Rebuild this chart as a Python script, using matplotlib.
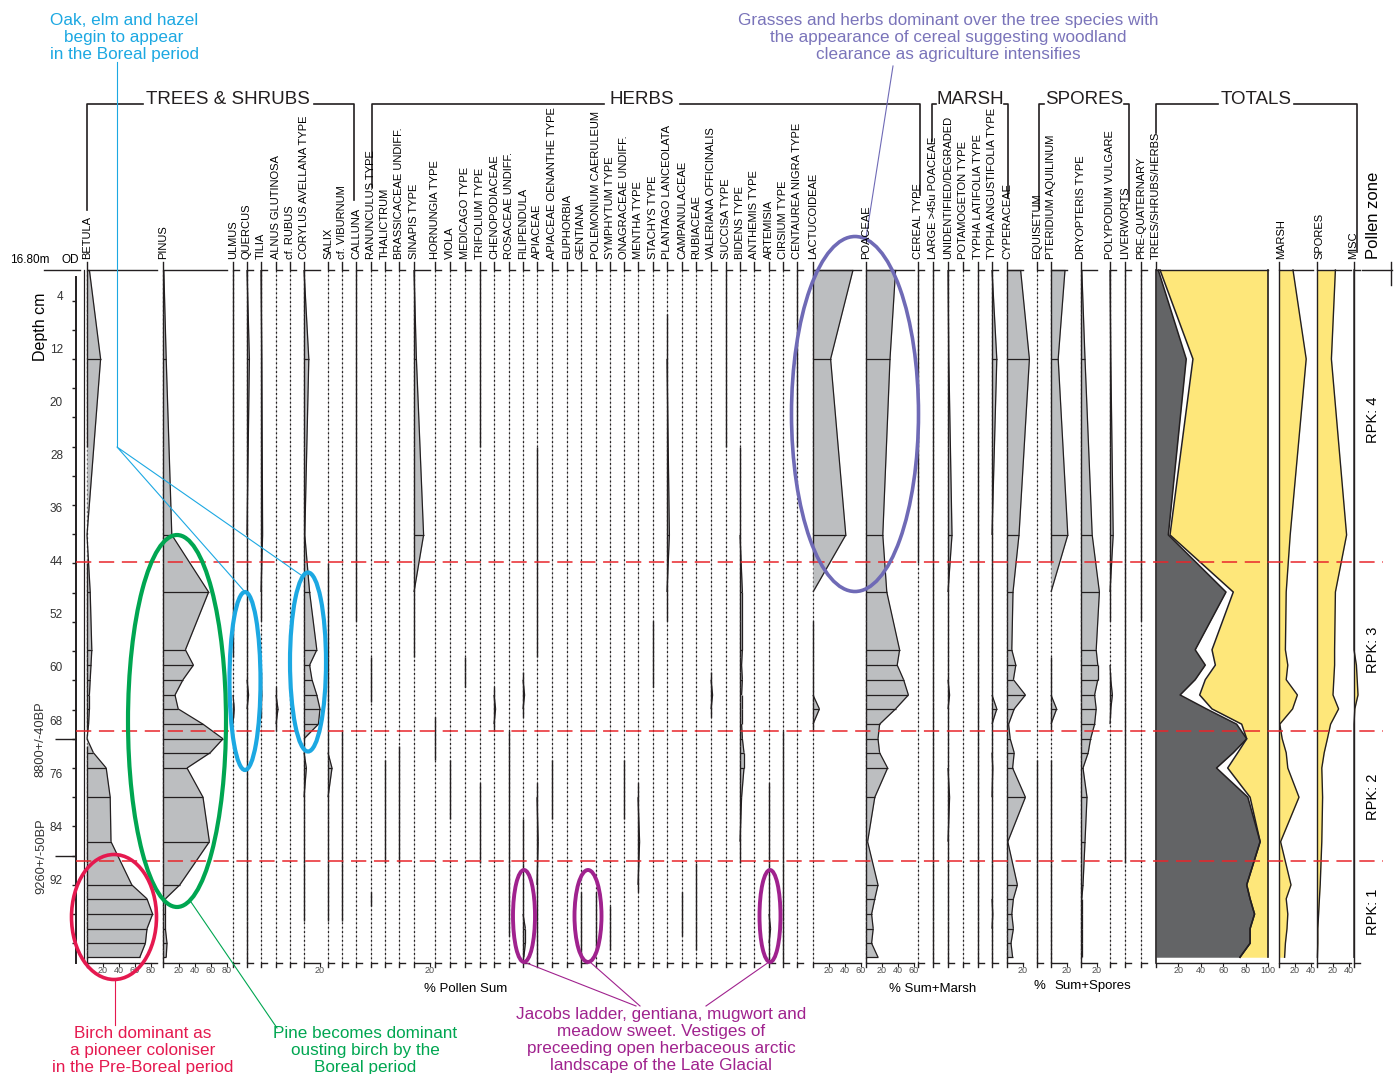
import numpy as np
import matplotlib.pyplot as plt
from matplotlib.patches import Ellipse
from matplotlib.collections import LineCollection

plt.rcParams['font.family'] = ['Liberation Sans', 'DejaVu Sans']

T = 0.5  # trace presence

# ---- data -------------------------------------------------------------
depth = [0, 13.4, 39.9, 48.5, 57.2, 59.5, 61.7, 64.0, 66.1, 68.4, 70.6,
         72.7, 75.0, 79.4, 86.1, 92.6, 94.7, 97.0, 99.2, 101.4, 103.5]

depth_labels = [4, 12, 20, 28, 36, 44, 52, 60, 68, 76, 84, 92]
zone_bounds = [44.0, 69.4, 89.0]
zones = ['RPK: 4', 'RPK: 3', 'RPK: 2', 'RPK: 1']
dates = ['8800+/-40BP', '9260+/-50BP']
date_depths = [70.6, 88.3]

# trees & shrubs
betula   = [3, 17, 0, 4, 6, 5, 4, 3, 3, 2, 0, 8, 24, 29, 30, 56, 75, 82, 75, 73, 66]
pinus    = [1, 4, 11, 57, 28, 38, 25, 15, 19, 50, 75, 59, 30, 50, 58, 21, 3, 3, 3, 5, 4]
ulmus    = [T, T, T, T, T, 0, 0, 0, 1.5, 0, 0, 0, 0, 0, 0, 0, 0, 0, 0, 0, 0]
quercus  = [T, 3, T, T, T, T, T, 2, T, T, T, T, T, T, T, T, T, T, T, T, T]
tilia    = [T, 1, 2, T, 0, 0, T, 1, T, 0, 0, 0, 0, 0, 0, 0, 0, 0, 0, 0, 0]
alnus    = [0, 0, 0, 0, 0, 0, 0, T, 2.5, T, 0, 0, 0, 0, 0, 0, 0, 0, 0, 0, 0]
rubus    = [0, 0, 0, 0, 0, 0, 0, 0, 0, 0, 0, 0, 0, 0, 0, 0, 0, 0, 0, 0, 0]
corylus  = [T, 6, 1, 7, 16, 7, 10, 16, 20, 18, T, T, 3, T, T, T, T, T, 0, 0, 0]
salix    = [0, 0, 0, T, T, T, T, T, T, T, T, T, 5, T, T, T, T, T, 0, 0, 0]
viburnum = [0, 0, 0, 0, 0, 0, 0, 0, 0, 0, T, T, T, T, T, T, T, T, 0, 0, 0]
calluna  = [T, T, T, T, 0, 0, 0, 0, 0, 0, 0, 0, 0, 0, 0, 0, 0, 0, 0, 0, 0]

# herbs
ranunculus  = [0, 0, 0, 0, 0, T, T, T, 0, 0, 0, 0, 0, 0, 0, 0, T, 0, 0, 0, 0]
thalictrum  = [0, 0, 0, 0, 0, 0, 0, 0, 0, 0, 0, 0, T, T, T, 0, 0, 0, 0, 0, 0]
brassica    = [0, 0, 0, 0, 0, 0, 0, 0, 0, 0, 0, T, T, T, T, 0, 0, 0, 0, 0, 0]
sinapis     = [T, 3, 12, T, T, 0, 0, 0, 0, 0, 0, 0, 0, 0, 0, 0, 0, 0, 0, 0, 0]
hornungia   = [0, 0, 0, 0, 0, 0, 0, 0, 0, T, T, T, 0, 0, 0, 0, 0, 0, 0, 0, 0]
viola       = [0, 0, 0, 0, 0, 0, 0, 0, 0, 0, 0, 0, T, T, 0, 0, 0, 0, 0, 0, 0]
medicago    = [0, 0, 0, 0, 0, T, T, 0, 0, 0, 0, 0, 0, 0, 0, 0, 0, 0, 0, 0, 0]
trifolium   = [T, T, 0, 0, 0, 0, 0, 0, 0, 0, 0, 0, 0, T, T, 0, 0, 0, 0, 0, 0]
chenopod    = [0, 0, 0, 0, 0, 0, 0, T, 2, T, 0, 0, 0, 0, 0, 0, 0, 0, 0, 0, 0]
rosaceae    = [0, 0, 0, 0, 0, 0, 0, 0, 0, 0, T, T, T, T, T, T, T, T, T, 0, 0]
filipendula = [0, 0, 0, 0, 0, 0, T, 2, T, 0, 0, 0, 0, 0, T, T, T, T, 3, 3, 1]
apiaceae    = [0, 0, T, T, T, 0, 0, 0, 0, 0, 0, 0, 0, T, 1.5, T, T, T, T, T, T]
oenanthe    = [0, 0, 0, 0, 0, 0, 0, 0, 0, 0, 0, 0, T, T, 0, 0, 0, 0, 0, 0, 0]
euphorbia   = [0, 0, 0, 0, 0, 0, 0, 0, 0, 0, 0, 0, 0, 0, 0, 0, 0, 0, 0, 0, 0]
gentiana    = [0, 0, 0, 0, 0, 0, 0, 0, 0, 0, 0, 0, 0, 0, 0, 0, T, T, T, T, T]
polemonium  = [0, 0, 0, 0, 0, 0, 0, 0, 0, 0, 0, 0, 0, 0, 0, 0, T, T, T, T, 0]
symphytum   = [0, 0, 0, 0, 0, 0, 0, 0, 0, 0, 0, 0, 0, 0, 0, 0, 0, T, T, T, 0]
onagraceae  = [0, 0, 0, 0, 0, 0, 0, 0, 0, 0, 0, 0, T, T, 0, 0, 0, 0, 0, 0, 0]
mentha      = [0, 0, 0, 0, 0, 0, 0, 0, 0, 0, 0, 0, 0, T, 2, T, 0, 0, 0, 0, 0]
stachys     = [0, 0, 0, 0, T, T, T, 0, 0, 0, 0, 0, 0, 0, 0, 0, 0, 0, 0, 0, 0]
plantago    = [0, T, 3, T, 0, 0, 0, 0, 0, 0, 0, 0, 0, 0, 0, 0, 0, 0, 0, 0, 0]
campanula   = [0, 0, 0, 0, 0, 0, 0, 0, 0, 0, 0, 0, 0, 0, 0, 0, T, T, T, 0, 0]
rubiaceae   = [0, 0, 0, 0, 0, 0, 0, 0, 0, 0, 0, 0, 0, 0, 0, T, T, T, T, T, 0]
valeriana   = [0, 0, 0, 0, 0, 0, T, 2, T, 0, 0, 0, 0, 0, 0, 0, 0, 0, 0, 0, 0]
succisa     = [T, T, 0, 0, 0, 0, 0, 0, 0, 0, 0, 0, 0, 0, 0, 0, 0, 0, 0, 0, 0]
bidens      = [0, 0, T, 3, 3, 2, 3, 2, 2, 2, 3, 5, 5, 2, T, 0, 0, 0, 0, 0, 0]
anthemis    = [0, 0, 0, 0, 0, 0, 0, 0, 0, 0, 0, 0, 0, 0, 0, 0, 0, 0, 0, 0, 0]
artemisia   = [0, 0, 0, 0, 0, 0, 0, 0, 0, 0, 0, 0, 0, T, T, T, T, T, 2, T, T]
cirsium     = [0, 0, 0, 0, 0, 0, 0, 0, 0, 0, T, T, T, T, T, T, T, T, T, T, T]
centaurea   = [T, T, 0, 0, 0, 0, 0, 0, 0, 0, 0, 0, 0, 0, 0, 0, 0, 0, 0, 0, 0]
lactucoid   = [50, 22, 41, 0, T, T, T, T, 8, T, 0, 0, 0, 0, 0, 0, 0, 0, 0, 0, 0]
poaceae     = [37, 30, 21, 26, 42, 39, 47, 53, 37, 17, 15, 17, 27, 11, 2, 15, 11, 7, 9, 7, 15]
cereal      = [T, T, T, 0, 0, 0, 0, 0, 0, 0, 0, 0, 0, 0, 0, 0, 0, 0, 0, 0, 0]

# marsh
large_poa   = [T, T, T, T, T, T, T, T, T, T, T, T, T, T, T, T, T, T, T, T, T]
unident     = [T, 1, 5, T, T, T, T, 2, T, T, T, T, T, 2, T, T, T, T, T, T, T]
potamogeton = [0, 0, 0, 0, 0, 0, 0, 0, 0, 0, 0, 0, 0, 0, 0, 0, 0, 0, 0, 0, 0]
typha_lat   = [T, T, T, T, T, T, T, T, T, T, T, T, T, T, T, T, T, T, T, T, T]
typha_ang   = [T, 6, T, T, T, T, T, T, 6, T, T, T, 1, T, T, T, T, 1, T, T, T]
cyperaceae  = [17, 28, 15, 7.5, 6, 11, 8, 23, 9, 2, 4, 9, 7, 23, 1, 13, 8, 6, 8, 5, 7]

# spores
equisetum   = [0, 0, 0, 0, 0, 0, 0, 0, 0, 0, 0, 0, T, T, T, T, T, T, T, T, T]
pteridium   = [17.5, 9, 21, 0, 0, T, T, T, 7, T, 0, 0, T, T, T, T, T, T, T, T, T]
dryopteris  = [1, 5, 14, 23, 19, 21, 21, 17, 19, 17, 12, 9, 2.5, 7.5, 5, 2.5, 1, 1, 1, 1, 1]
polypodium  = [T, 1, 4, T, 0, 0, 1, 3, 1, 0, 0, 0, 0, 0, 0, 0, 0, 0, 0, 0, 0]
liverworts  = [T, T, T, T, T, T, T, T, T, T, T, T, T, T, T, 0, 0, 0, 0, 0, 0]
prequat     = [T, T, T, T, 0, 0, 0, 0, 0, 0, 0, 0, 0, 0, 0, 0, 0, 0, 0, 0, 0]

# totals
tot_trees  = [2, 27, 11, 62.5, 35, 44, 35, 21.5, 45, 72, 81, 69, 54, 82, 93, 81, 84, 88, 84, 84, 75]
tot_shrubs = [1.6, 6, 1.5, 6.5, 15, 9, 9, 17.5, 5, 4.5, 0, 4, 10, 2, 0, 0, 0, 0, 0, 0, 0]
tot_marsh  = [17.5, 34, 14, 9, 8, 11, 9, 23, 17, 1, 4, 9, 11, 25, 2, 15, 9, 11, 10, 8, 7]
tot_spores = [23, 18, 37, 23, 22, 22, 21, 20, 27, 17, 13, 9, 6, 7, 6, 4, 3, 2, 1, 1, 0.5]
tot_misc   = [0, 0, 0, 0, 0, 3, 4, 5, 1, 0, 0, 0, 0, 0, 0, 0, 0, 0, 0, 0, 0]

# (label, values, baseline x, axis width %, labelled ticks)
columns = [
    ('BETULA', betula, 87, 88, [20, 40, 60, 80]),
    ('PINUS', pinus, 163, 80, [20, 40, 60, 80]),
    ('ULMUS', ulmus, 233, 8, []),
    ('QUERCUS', quercus, 247, 8, []),
    ('TILIA', tilia, 261, 8, []),
    ('ALNUS GLUTINOSA', alnus, 276, 8, []),
    ('cf. RUBUS', rubus, 290, 8, []),
    ('CORYLUS AVELLANA TYPE', corylus, 304, 20, [20]),
    ('SALIX', salix, 328, 8, []),
    ('cf. VIBURNUM', viburnum, 342, 8, []),
    ('CALLUNA', calluna, 356, 8, []),
    ('RANUNCULUS TYPE', ranunculus, 371, 8, []),
    ('THALICTRUM', thalictrum, 385, 8, []),
    ('BRASSICACEAE UNDIFF.', brassica, 399, 8, []),
    ('SINAPIS TYPE', sinapis, 414, 20, [20]),
    ('HORNUNGIA TYPE', hornungia, 435, 8, []),
    ('VIOLA', viola, 450, 8, []),
    ('MEDICAGO TYPE', medicago, 465, 8, []),
    ('TRIFOLIUM TYPE', trifolium, 480, 8, []),
    ('CHENOPODIACEAE', chenopod, 494, 8, []),
    ('ROSACEAE UNDIFF.', rosaceae, 509, 8, []),
    ('FILIPENDULA', filipendula, 523, 8, []),
    ('APIACEAE', apiaceae, 537, 8, []),
    ('APIACEAE OENANTHE TYPE', oenanthe, 552, 8, []),
    ('EUPHORBIA', euphorbia, 567, 8, []),
    ('GENTIANA', gentiana, 581, 8, []),
    ('POLEMONIUM CAERULEUM', polemonium, 596, 8, []),
    ('SYMPHYTUM TYPE', symphytum, 610, 8, []),
    ('ONAGRACEAE UNDIFF.', onagraceae, 624, 8, []),
    ('MENTHA TYPE', mentha, 638, 8, []),
    ('STACHYS TYPE', stachys, 653, 8, []),
    ('PLANTAGO LANCEOLATA', plantago, 667, 8, []),
    ('CAMPANULACEAE', campanula, 682, 8, []),
    ('RUBIACEAE', rubiaceae, 696, 8, []),
    ('VALERIANA OFFICINALIS', valeriana, 711, 8, []),
    ('SUCCISA TYPE', succisa, 726, 8, []),
    ('BIDENS TYPE', bidens, 740, 8, []),
    ('ANTHEMIS TYPE', anthemis, 754, 8, []),
    ('ARTEMISIA', artemisia, 769, 8, []),
    ('CIRSIUM TYPE', cirsium, 783, 8, []),
    ('CENTAUREA NIGRA TYPE', centaurea, 797, 8, []),
    ('LACTUCOIDEAE', lactucoid, 813, 60, [20, 40, 60]),
    ('POACEAE', poaceae, 866, 60, [20, 40, 60]),
    ('CEREAL TYPE', cereal, 918, 8, []),
    ('LARGE >45u POACEAE', large_poa, 933, 8, []),
    ('UNIDENTIFIED/DEGRADED', unident, 948, 8, []),
    ('POTAMOGETON TYPE', potamogeton, 963, 8, []),
    ('TYPHA LATIFOLIA TYPE', typha_lat, 978, 8, []),
    ('TYPHA ANGUSTIFOLIA TYPE', typha_ang, 992, 8, []),
    ('CYPERACEAE', cyperaceae, 1007, 20, [20]),
    ('EQUISETUM', equisetum, 1037, 8, []),
    ('PTERIDIUM AQUILINUM', pteridium, 1051, 20, [20]),
    ('DRYOPTERIS TYPE', dryopteris, 1081, 20, [20]),
    ('POLYPODIUM VULGARE', polypodium, 1110, 8, []),
    ('LIVERWORTS', liverworts, 1125, 8, []),
    ('PRE-QUATERNARY', prequat, 1141, 8, []),
]

# ---- layout -----------------------------------------------------------
Y0, PXCM = 270, 6.64          # pixel row of depth 0, pixels per cm
BOTTOM = 104.4
S = 0.8                       # pixels per percent
INK = '#231f20'
GREY = '#bcbec0'
YEL = '#fee77a'

fig = plt.figure(figsize=(13.97, 10.74), dpi=100)
ax = fig.add_axes([0, 0, 1, 1], label='diagram')
ax.set_xlim(0, 1397)
ax.set_ylim((1074 - Y0) / PXCM, -Y0 / PXCM)
ax.axis('off')
ov = fig.add_axes([0, 0, 1, 1], label='notes', zorder=3)
ov.set_xlim(0, 1397)
ov.set_ylim(1074, 0)
ov.axis('off')

d = np.array(depth, float)
mid = (d[:-1] + d[1:]) / 2
seg_top = np.r_[d[0], mid]
seg_bot = np.r_[mid, BOTTOM]


def frame(x0, width, ticks, s=S):
    ax.plot([x0, x0, x0 + width * s], [-1.2, 0, 0], color=INK, lw=1.0, zorder=4)
    ax.plot([x0, x0, x0 + width * s], [BOTTOM + 0.5, BOTTOM, BOTTOM],
            color=INK, lw=1.0, zorder=4)
    for t in ticks:
        ax.plot([x0 + t * s] * 2, [BOTTOM, BOTTOM + 0.35], color=INK, lw=0.8)
        ax.text(x0 + t * s, BOTTOM + 0.45, str(t), ha='center', va='top',
                fontsize=6.5, color='#4d4d4d')


def column(label, vals, x0, width, ticks):
    v = np.asarray(vals, float)
    ax.plot([x0, x0], [0, BOTTOM], color='#c4c4c4', lw=0.6, zorder=1)
    ax.plot([x0, x0], [0, BOTTOM], color=INK, lw=0.9, ls=(0, (1.5, 2.0)), zorder=1)
    for i in np.nonzero(v > 0)[0]:
        ax.plot([x0, x0], [seg_top[i], seg_bot[i]], color=INK, lw=1.0,
                solid_capstyle='butt', zorder=3)
    big = np.where(v >= 1, v, 0)
    if big.any():
        xs = x0 + big * S
        ax.fill_betweenx(d, x0, xs, color=GREY, lw=0, zorder=2)
        segs = [[(xs[i], d[i]), (xs[i + 1], d[i + 1])]
                for i in range(len(d) - 1) if big[i] or big[i + 1]]
        ax.add_collection(LineCollection(segs, colors=INK, lw=0.9, zorder=3))
        k = big >= 2.5
        ax.hlines(d[k], x0, xs[k], colors=INK, lw=0.9, zorder=3)
    frame(x0, width, ticks)
    ov.text(x0, 259, label, rotation=90, ha='center', va='bottom', fontsize=8)


for col in columns:
    column(*col)

# Betula double rule
ax.plot([84, 84], [0, BOTTOM], color=INK, lw=0.9)

# totals column
TX, TS = 1156, 1.12
c1 = np.array(tot_trees, float)
c2 = c1 + np.array(tot_shrubs, float)
ax.fill_betweenx(d, TX, TX + c1 * TS, color='#636466', lw=0, zorder=2)
ax.fill_betweenx(d, TX + c1 * TS, TX + c2 * TS, color='white', lw=0, zorder=2)
ax.fill_betweenx(d, TX + c2 * TS, TX + 100 * TS, color=YEL, lw=0, zorder=2)
ax.plot(TX + c1 * TS, d, color=INK, lw=1.1, zorder=3)
ax.plot(TX + c2 * TS, d, color=INK, lw=1.1, zorder=3)
ax.plot([TX, TX], [0, BOTTOM], color=INK, lw=1.2, zorder=3)
ax.plot([TX + 100 * TS] * 2, [0, d[-1]], color=INK, lw=1.2, zorder=3)
frame(TX, 100, [20, 40, 60, 80, 100], s=TS)
ov.text(TX, 259, 'TREES/SHRUBS/HERBS', rotation=90, ha='center', va='bottom', fontsize=8)

for name, vals, x0, ticks, lx in [('MARSH', tot_marsh, 1279, [20, 40], 1281),
                                  ('SPORES', tot_spores, 1317, [20, 40], 1319),
                                  ('MISC', tot_misc, 1354, [], 1353)]:
    v = np.asarray(vals, float)
    ax.fill_betweenx(d, x0, x0 + v * S, color=YEL, lw=0, zorder=2)
    ax.plot(x0 + v * S, d, color=INK, lw=1.0, zorder=3)
    ax.plot([x0, x0], [0, BOTTOM], color=INK, lw=1.0, zorder=3)
    frame(x0, 42 if ticks else 8, ticks)
    ov.text(lx, 259, name, rotation=90, ha='center', va='bottom', fontsize=8)

# depth axis
ax.plot([76, 76], [1.0, BOTTOM], color=INK, lw=1.4)
tick_d = [4.6 + 4.4 * k for k in range(23)]
ax.hlines(tick_d, 72, 76, colors=INK, lw=1.0)
for v in depth_labels:
    ax.text(63, v, str(v), ha='right', va='center', fontsize=8.5, color='#333333')
ax.hlines(date_depths, 55, 76, colors=INK, lw=1.0)
for lab, v in zip(dates, date_depths):
    ax.text(41, v, lab, rotation=90, ha='center', va='center', fontsize=9.3, color='#333333')
ov.text(40, 327, 'Depth cm', rotation=90, ha='center', va='center', fontsize=11.5)
ov.text(10, 260, '16.80m', ha='left', va='center', fontsize=8.5)
ov.text(61, 260, 'OD', ha='left', va='center', fontsize=8.5)
ov.plot([44, 80], [270, 270], color=INK, lw=1.0)

# zone boundaries
ax.hlines(zone_bounds, 76, 1383, colors='#e8262b', lw=1.1,
          linestyles=[(0, (10, 5))], zorder=5)
for z, y in zip(zones, [420, 650, 797, 912]):
    ov.text(1373, y, z, rotation=90, ha='center', va='center', fontsize=10.5)
ov.text(1373, 215, 'Pollen zone', rotation=90, ha='center', va='center', fontsize=12)
ov.plot([1362, 1392], [270, 270], color=INK, lw=1.0)
ov.plot([1391, 1391], [262, 285], color=INK, lw=1.0)


# group brackets
def bracket(text, xl, yl, xr, yr, tl, tr, tx):
    ov.plot([xl, xl, tl], [yl, 104, 104], color=INK, lw=1.2)
    ov.plot([tr, xr, xr], [104, 104, yr], color=INK, lw=1.2)
    ov.text(tx, 104, text, ha='center', va='baseline', fontsize=13.5, color=INK)


bracket('TREES & SHRUBS', 87, 210, 354, 200, 143, 314, 228)
bracket('HERBS', 372, 187, 920, 195, 604, 680, 642)
bracket('MARSH', 932, 141, 1008, 197, 936, 1004, 970)
bracket('SPORES', 1039, 209, 1129, 201, 1044, 1124, 1084)
bracket('TOTALS', 1156, 133, 1357, 252, 1218, 1294, 1256)

ov.text(466, 989, '% Pollen Sum', ha='center', va='center', fontsize=9.5)
ov.text(933, 989, '% Sum+Marsh', ha='center', va='center', fontsize=9.5)
ov.text(1039, 986, '%', ha='center', va='center', fontsize=9.5)
ov.text(1093, 986, 'Sum+Spores', ha='center', va='center', fontsize=9.5)

# ---- annotations -------------------------------------------------------
CYAN, GREEN, RED = '#1ca8e2', '#00a651', '#e5194f'
PURP, VIOL = '#a0228e', '#6f6ab6'
for (cx, cy, w, h, c, lw) in [(245, 681, 31, 178, CYAN, 3.0),
                              (308, 662, 36, 179, CYAN, 3.0),
                              (177, 721, 98, 372, GREEN, 3.0),
                              (114, 917, 85, 125, RED, 2.6),
                              (524, 916, 22, 92, PURP, 2.8),
                              (588, 916, 27, 92, PURP, 2.8),
                              (770, 916, 21, 92, PURP, 2.8),
                              (855, 414, 127, 355, VIOL, 2.6)]:
    ov.add_patch(Ellipse((cx, cy), w, h, fill=False, ec=c, lw=lw))

ov.plot([117, 117], [62, 447], color=CYAN, lw=0.8)
ov.plot([245, 117, 301], [592, 447, 575], color=CYAN, lw=0.8)
ov.plot([191, 277], [902, 1028], color=GREEN, lw=0.8)
ov.plot([115, 115], [980, 1025], color=RED, lw=0.8)
ov.plot([524, 636], [962, 1006], color=PURP, lw=0.8)
ov.plot([590, 640], [962, 1006], color=PURP, lw=0.8)
ov.plot([769, 706], [962, 1006], color=PURP, lw=0.8)
ov.plot([866, 893], [238, 66], color=VIOL, lw=0.8)

note = dict(ha='center', va='top', fontsize=12.3, linespacing=1.17)
ov.text(124, 13, 'Oak, elm and hazel\nbegin to appear\nin the Boreal period', color=CYAN, **note)
ov.text(948, 13, 'Grasses and herbs dominant over the tree species with\n'
        'the appearance of cereal suggesting woodland\n'
        'clearance as agriculture intensifies', color='#7a74ba', **note)
ov.text(143, 1026, 'Birch dominant as\na pioneer coloniser\nin the Pre-Boreal period',
        color=RED, **note)
ov.text(365, 1026, 'Pine becomes dominant\nousting birch by the\nBoreal period', color=GREEN, **note)
ov.text(661, 1007, 'Jacobs ladder, gentiana, mugwort and\nmeadow sweet. Vestiges of\n'
        'preceeding open herbaceous arctic\nlandscape of the Late Glacial', color=PURP, **note)

fig.savefig('out.png', dpi=100)
